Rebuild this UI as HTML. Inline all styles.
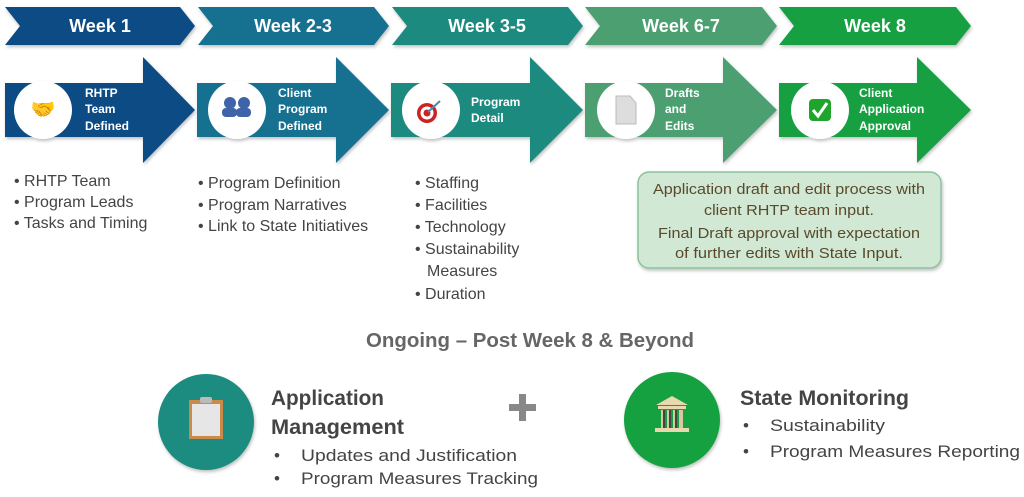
<!DOCTYPE html>
<html><head><meta charset="utf-8"><style>
body{margin:0;width:1024px;height:492px;background:#fff;overflow:hidden}
svg text{font-family:"Liberation Sans","DejaVu Sans",sans-serif}
</style></head><body>
<svg width="1024" height="492" viewBox="0 0 1024 492">
<defs>
<filter id="sh" x="-10%" y="-10%" width="130%" height="130%"><feDropShadow dx="1" dy="2" stdDeviation="1.5" flood-color="#000" flood-opacity="0.25"/></filter>
</defs>
<g filter="url(#sh)">
<polygon points="5,7 180,7 195,26 180,45 5,45 20,26" fill="#0f4b85"/>
<polygon points="198,7 374,7 389,26 374,45 198,45 213,26" fill="#186f90"/>
<polygon points="392,7 568,7 583,26 568,45 392,45 407,26" fill="#1e8a7e"/>
<polygon points="585,7 762,7 777,26 762,45 585,45 600,26" fill="#4c9f70"/>
<polygon points="779,7 956,7 971,26 956,45 779,45 794,26" fill="#14a043"/>
</g>
<g font-weight="bold" font-size="18" fill="#fff" text-anchor="middle">
<text x="100" y="32">Week 1</text>
<text x="293" y="32">Week 2-3</text>
<text x="487" y="32">Week 3-5</text>
<text x="681" y="32">Week 6-7</text>
<text x="875" y="32">Week 8</text>
</g>
<g filter="url(#sh)">
<polygon points="5,83 143,83 143,57 195,110 143,163 143,137 5,137" fill="#0f4b85"/>
<polygon points="197,83 336,83 336,57 389,110 336,163 336,137 197,137" fill="#186f90"/>
<polygon points="391,83 530,83 530,57 583,110 530,163 530,137 391,137" fill="#1e8a7e"/>
<polygon points="585,83 723,83 723,57 777,110 723,163 723,137 585,137" fill="#4c9f70"/>
<polygon points="779,83 917,83 917,57 971,110 917,163 917,137 779,137" fill="#14a043"/>
<circle cx="43" cy="110" r="29" fill="#fff"/>
<circle cx="237" cy="110" r="29" fill="#fff"/>
<circle cx="431" cy="110" r="29" fill="#fff"/>
<circle cx="626" cy="110" r="29" fill="#fff"/>
<circle cx="820" cy="110" r="29" fill="#fff"/>
</g>
<text x="43" y="116" font-size="20" text-anchor="middle" font-family="DejaVu Sans">🤝</text>
<g fill="#3f63a8"><circle cx="230" cy="103" r="6"/><circle cx="244" cy="103" r="6"/><rect x="222" y="108" width="15" height="9" rx="4"/><rect x="236" y="108" width="15" height="9" rx="4"/></g>
<circle cx="427" cy="113" r="10" fill="#c22"/><circle cx="427" cy="113" r="6.5" fill="#fff"/><circle cx="427" cy="113" r="3.5" fill="#c22"/><line x1="428" y1="112" x2="440" y2="101" stroke="#4a8ab0" stroke-width="2"/>
<polygon points="616,96 630,96 636,103 636,124 616,124" fill="#ddd" stroke="#bbb"/>
<rect x="809" y="99" width="22" height="22" rx="4" fill="#1fa52b"/><polyline points="813,110 818,116 827,103" fill="none" stroke="#fff" stroke-width="3"/>
<g font-weight="bold" font-size="12" fill="#fff">
<text x="85" y="97">RHTP</text><text x="85" y="113">Team</text><text x="85" y="130">Defined</text>
<text x="278" y="97">Client</text><text x="278" y="113">Program</text><text x="278" y="130">Defined</text>
<text x="471" y="106">Program</text><text x="471" y="122">Detail</text>
<text x="665" y="97">Drafts</text><text x="665" y="113">and</text><text x="665" y="130">Edits</text>
<text x="859" y="97">Client</text><text x="859" y="113">Application</text><text x="859" y="130">Approval</text>
</g>
<g font-size="16" fill="#444">
<text x="14" y="186">• RHTP Team</text><text x="14" y="207">• Program Leads</text><text x="14" y="228">• Tasks and Timing</text>
<text x="198" y="188">• Program Definition</text><text x="198" y="210">• Program Narratives</text><text x="198" y="231">• Link to State Initiatives</text>
<text x="415" y="188">• Staffing</text><text x="415" y="210">• Facilities</text><text x="415" y="232">• Technology</text><text x="415" y="254">• Sustainability</text><text x="427" y="276">Measures</text><text x="415" y="299">• Duration</text>
</g>
<rect x="638" y="172" width="303" height="96" rx="11" fill="#d0e8d4" stroke="#8cc29b" stroke-width="1.5" filter="url(#sh)"/>
<g font-size="15" fill="#5a4a2c" text-anchor="middle">
<text x="789" y="194" textLength="272" lengthAdjust="spacingAndGlyphs">Application draft and edit process with</text>
<text x="789" y="215" textLength="170" lengthAdjust="spacingAndGlyphs">client RHTP team input.</text>
<text x="789" y="238" textLength="262" lengthAdjust="spacingAndGlyphs">Final Draft approval with expectation</text>
<text x="789" y="258" textLength="228" lengthAdjust="spacingAndGlyphs">of further edits with State Input.</text>
</g>
<text x="530" y="347" font-size="20" font-weight="bold" fill="#666" text-anchor="middle" textLength="328" lengthAdjust="spacingAndGlyphs">Ongoing – Post Week 8 &amp; Beyond</text>
<circle cx="206" cy="422" r="48" fill="#1f8b80" filter="url(#sh)"/>
<rect x="189" y="400" width="34" height="39" fill="#c98a4a"/><rect x="192" y="404" width="28" height="32" fill="#e6e6e6"/><rect x="200" y="397" width="12" height="6" rx="2" fill="#bbb"/>
<circle cx="672" cy="420" r="48" fill="#16a140" filter="url(#sh)"/>
<polygon points="656,405 672,396 688,405" fill="#e8d8b0"/><rect x="658" y="406" width="28" height="3" fill="#e8d8b0"/>
<g fill="#d8c7a0"><rect x="661" y="410" width="4" height="18"/><rect x="667" y="410" width="4" height="18"/><rect x="673" y="410" width="4" height="18"/><rect x="679" y="410" width="4" height="18"/></g>
<g fill="#444"><rect x="663" y="410" width="2" height="18"/><rect x="669" y="410" width="2" height="18"/><rect x="675" y="410" width="2" height="18"/></g>
<rect x="655" y="428" width="34" height="4" fill="#e8d8b0"/>
<g font-weight="bold" font-size="21" fill="#444">
<text x="271" y="405" textLength="113" lengthAdjust="spacingAndGlyphs">Application</text><text x="271" y="434" textLength="133" lengthAdjust="spacingAndGlyphs">Management</text>
<text x="740" y="405" textLength="169" lengthAdjust="spacingAndGlyphs">State Monitoring</text>
</g>
<g fill="#888"><rect x="509" y="404" width="27" height="7"/><rect x="519" y="394" width="7" height="27"/></g>
<g font-size="17" fill="#444">
<text x="274" y="461">•</text><text x="301" y="461" textLength="216" lengthAdjust="spacingAndGlyphs">Updates and Justification</text>
<text x="274" y="484">•</text><text x="301" y="484" textLength="237" lengthAdjust="spacingAndGlyphs">Program Measures Tracking</text>
<text x="743" y="431">•</text><text x="770" y="431" textLength="115" lengthAdjust="spacingAndGlyphs">Sustainability</text>
<text x="743" y="457">•</text><text x="770" y="457" textLength="250" lengthAdjust="spacingAndGlyphs">Program Measures Reporting</text>
</g>
</svg>
</body></html>
